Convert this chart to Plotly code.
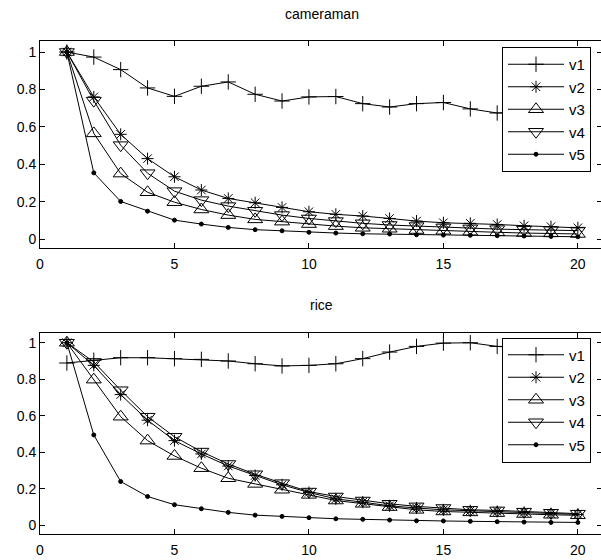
import plotly.graph_objects as go

# iteration index shared by every curve
iters = list(range(1, 21))

# cameraman curves
cam_v1 = [1.0, 0.973, 0.906, 0.808, 0.763, 0.817, 0.84, 0.774, 0.738, 0.76,
          0.762, 0.724, 0.706, 0.724, 0.73, 0.696, 0.674, 0.68, 0.67, 0.66]
cam_v2 = [1.0, 0.76, 0.56, 0.43, 0.333, 0.262, 0.217, 0.194, 0.169, 0.146,
          0.132, 0.123, 0.11, 0.096, 0.087, 0.084, 0.078, 0.071, 0.066, 0.06]
cam_v3 = [1.0, 0.565, 0.35, 0.25, 0.197, 0.158, 0.128, 0.105, 0.093, 0.08,
          0.069, 0.06, 0.055, 0.048, 0.044, 0.039, 0.036, 0.032, 0.03, 0.027]
cam_v4 = [1.0, 0.74, 0.502, 0.352, 0.256, 0.208, 0.176, 0.151, 0.128, 0.11,
          0.096, 0.084, 0.075, 0.069, 0.062, 0.057, 0.053, 0.05, 0.048, 0.045]
cam_v5 = [1.0, 0.354, 0.201, 0.149, 0.101, 0.08, 0.062, 0.05, 0.044, 0.036,
          0.032, 0.028, 0.027, 0.023, 0.021, 0.02, 0.018, 0.016, 0.014, 0.012]

# rice curves
rice_v1 = [0.889, 0.904, 0.918, 0.918, 0.913, 0.909, 0.9, 0.885, 0.873, 0.876,
           0.885, 0.913, 0.949, 0.98, 0.998, 1.0, 0.98, 0.97, 0.96, 0.955]
rice_v2 = [1.0, 0.876, 0.716, 0.576, 0.464, 0.391, 0.325, 0.273, 0.222, 0.18,
           0.145, 0.127, 0.107, 0.095, 0.085, 0.08, 0.076, 0.071, 0.064, 0.06]
rice_v3 = [1.0, 0.798, 0.595, 0.464, 0.38, 0.313, 0.258, 0.227, 0.195, 0.167,
           0.136, 0.118, 0.1, 0.085, 0.076, 0.071, 0.067, 0.062, 0.058, 0.055]
rice_v4 = [1.0, 0.895, 0.74, 0.595, 0.485, 0.404, 0.336, 0.28, 0.231, 0.185,
           0.158, 0.136, 0.118, 0.104, 0.095, 0.085, 0.082, 0.075, 0.069, 0.064]
rice_v5 = [1.0, 0.495, 0.24, 0.158, 0.113, 0.091, 0.071, 0.056, 0.049, 0.042,
           0.036, 0.033, 0.029, 0.025, 0.024, 0.022, 0.02, 0.018, 0.016, 0.016]

names = ["v1", "v2", "v3", "v4", "v5"]
symbols = ["cross-thin-open", "asterisk-open", "triangle-up-open",
           "triangle-down-open", "circle"]
sizes = [11, 10, 13, 13, 4]

x_ticks = [0, 5, 10, 15, 20]
y_ticks = [0, 0.2, 0.4, 0.6, 0.8, 1]

FONT = "Liberation Sans, Arial, sans-serif"

fig = go.Figure()

panels = [
    ("x", "y", "legend", [cam_v1, cam_v2, cam_v3, cam_v4, cam_v5]),
    ("x2", "y2", "legend2", [rice_v1, rice_v2, rice_v3, rice_v4, rice_v5]),
]
for xa, ya, leg, series in panels:
    for name, sym, sz, vals in zip(names, symbols, sizes, series):
        fig.add_trace(go.Scatter(
            x=iters, y=vals, name=name, mode="lines+markers",
            xaxis=xa, yaxis=ya, legend=leg, legendgroup=leg + name,
            line=dict(color="black", width=1),
            marker=dict(symbol=sym, size=sz, color="black",
                        line=dict(color="black", width=1)),
        ))

x_left = 40 / 601
x_range = [0, 20.86]

common_x = dict(range=x_range, tickvals=x_ticks, ticks="inside", ticklen=5,
                tickwidth=1, tickcolor="black", showline=True, linecolor="black",
                linewidth=1, mirror="ticks", showgrid=False, zeroline=False,
                tickfont=dict(family=FONT, size=14, color="black"),
                ticklabelstandoff=3,
                domain=[x_left, 1], automargin=False)
common_y = dict(tickvals=y_ticks, ticks="inside", ticklen=5, tickwidth=1,
                tickcolor="black", showline=True, linecolor="black", linewidth=1,
                showgrid=False, zeroline=False,
                tickfont=dict(family=FONT, size=14, color="black"),
                automargin=False)

top_dom = [1 - 248 / 560, 1 - 41 / 560]
bot_dom = [1 - 534.3 / 560, 1 - 332.7 / 560]

legend_style = dict(xanchor="left", yanchor="top", bgcolor="white",
                    bordercolor="black", borderwidth=1,
                    font=dict(family=FONT, size=15, color="black"),
                    tracegroupgap=0, traceorder="grouped", itemwidth=56)

fig.update_layout(
    width=601, height=560,
    margin=dict(l=0, r=0, t=0, b=0),
    paper_bgcolor="white", plot_bgcolor="white",
    font=dict(family=FONT, size=14, color="black"),
    xaxis=dict(common_x, anchor="y"),
    yaxis=dict(common_y, anchor="x", domain=top_dom, range=[-0.048, 1.059]),
    xaxis2=dict(common_x, anchor="y2"),
    yaxis2=dict(common_y, anchor="x2", domain=bot_dom, range=[-0.049, 1.055]),
    # right-hand tick marks without a frame line
    yaxis3=dict(overlaying="y", side="right", range=[-0.048, 1.059],
                tickvals=y_ticks, ticks="inside", ticklen=4, tickcolor="black",
                showticklabels=False, showline=False, showgrid=False,
                zeroline=False, anchor="x"),
    yaxis4=dict(overlaying="y2", side="right", range=[-0.049, 1.055],
                tickvals=y_ticks, ticks="inside", ticklen=4, tickcolor="black",
                showticklabels=False, showline=False, showgrid=False,
                zeroline=False, anchor="x2"),
    legend=dict(legend_style, x=502 / 601, y=1 - 47 / 560),
    legend2=dict(legend_style, x=502 / 601, y=1 - 337.5 / 560),
    showlegend=True,
    annotations=[
        dict(text="cameraman", x=(40 + 603) / 2 / 601, y=1 - 14 / 560,
             xref="paper", yref="paper", yanchor="middle", showarrow=False,
             font=dict(family=FONT, size=14, color="black")),
        dict(text="rice", x=(40 + 603) / 2 / 601, y=1 - 305 / 560,
             xref="paper", yref="paper", yanchor="middle", showarrow=False,
             font=dict(family=FONT, size=14, color="black")),
    ],
)

# hidden traces so the overlay axes are drawn
fig.add_trace(go.Scatter(x=[None], y=[None], xaxis="x", yaxis="y3",
                         showlegend=False, hoverinfo="skip"))
fig.add_trace(go.Scatter(x=[None], y=[None], xaxis="x2", yaxis="y4",
                         showlegend=False, hoverinfo="skip"))

fig.write_html("out.html")
